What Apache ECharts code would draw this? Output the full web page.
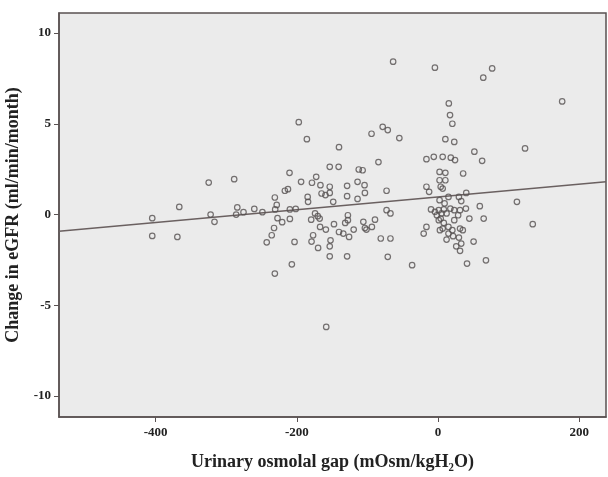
<!DOCTYPE html>
<html><head><meta charset="utf-8">
<script src="https://cdn.jsdelivr.net/npm/echarts@6/dist/echarts.min.js"></script>
<style>html,body{margin:0;padding:0;background:#fff}#c{width:608px;height:477px}</style>
</head><body><div id="c"></div>
<script>
// Urinary osmolal gap (mOsm/kgH2O)
const gapX = [-63.6,-4.4,76.7,64.1,175.9,15.3,17.0,20.3,-197.3,-78.4,-71.2,-94.2,-54.8,-185.8,10.4,23.0,-140.3,123.3,51.5,-16.4,-6.0,6.6,18.1,24.1,62.5,-84.4,-153.4,-140.8,-112.3,-106.8,-210.4,2.2,10.4,35.6,-324.9,-288.8,-194.0,-172.6,-178.6,-166.6,-153.4,-128.8,-114.0,-104.1,2.2,10.4,3.8,-16.4,-12.6,6.6,-72.9,-212.6,-217.0,-103.6,-165.0,-153.4,-159.5,-128.8,-184.7,-231.2,-114.0,-184.1,-148.5,40.0,29.6,14.8,32.9,111.8,59.2,-366.6,-284.4,-228.5,-260.3,-275.6,-248.8,-230.7,-209.9,-201.6,-322.2,-286.0,-404.9,-316.7,-227.4,-220.8,-209.9,-179.7,-174.2,-170.4,-167.7,-127.7,-127.7,-147.4,-131.5,-105.8,-89.3,-72.9,-67.4,-9.9,1.1,8.2,-1.6,4.9,12.1,17.5,23.0,31.2,39.5,44.4,64.7,134.2,3.8,8.2,2.7,14.8,20.3,31.2,14.8,12.1,21.4,29.6,35.1,32.9,25.8,31.2,50.4,-16.4,-20.3,41.1,67.9,-36.7,-71.2,-67.4,-81.1,-128.8,-153.4,-153.4,-152.3,-169.9,-179.2,-177.0,-167.1,-158.9,-140.3,-134.2,-126.0,-119.5,-103.6,-93.7,-101.4,-203.3,-232.3,-235.6,-242.7,-207.1,-231.2,-404.9,-369.3,-158.4,-4.4,1.1,6.6,23.0,28.5,2.2,9.3];
// Change in eGFR (ml/min/month)
const egfrY = [8.42,8.09,8.05,7.54,6.23,6.12,5.48,5.00,5.09,4.83,4.65,4.45,4.21,4.15,4.15,4.00,3.71,3.64,3.46,3.05,3.18,3.18,3.13,3.00,2.96,2.89,2.63,2.63,2.48,2.44,2.30,2.35,2.30,2.26,1.76,1.95,1.80,2.08,1.75,1.62,1.53,1.58,1.80,1.62,1.89,1.89,1.53,1.53,1.25,1.43,1.31,1.40,1.31,1.19,1.16,1.19,1.07,1.01,0.97,0.94,0.86,0.70,0.70,1.19,0.97,0.97,0.74,0.70,0.46,0.42,0.39,0.53,0.31,0.13,0.13,0.28,0.28,0.31,0.00,0.00,-0.20,-0.40,-0.20,-0.42,-0.24,-0.28,0.06,-0.09,-0.22,-0.04,-0.31,-0.53,-0.46,-0.40,-0.28,0.24,0.06,0.28,0.24,0.28,-0.04,0.06,0.06,0.33,0.24,0.24,0.33,-0.22,-0.22,-0.53,-0.22,-0.46,-0.86,-0.68,-0.86,-0.77,-1.05,-1.38,-1.19,-1.27,-0.86,-1.60,-1.75,-2.00,-1.49,-0.68,-1.05,-2.70,-2.52,-2.79,-2.33,-1.32,-1.32,-2.30,-2.30,-1.75,-1.42,-1.84,-1.49,-1.14,-0.68,-0.83,-0.96,-1.05,-1.23,-0.83,-0.74,-0.68,-0.83,-1.51,-0.74,-1.14,-1.53,-2.74,-3.25,-1.18,-1.23,-6.19,0.15,-0.31,-0.77,-0.31,-0.04,0.79,0.61];
const xTicks = [-400, -200, 0, 200];
const yTicks = [-10, -5, 0, 5, 10];
const fitIntercept = 0.965;
const fitSlope = 0.00351;
const xMin = -537, xMax = 238, yMin = -11.15, yMax = 11.1;

const pts = gapX.map((x, i) => [x, egfrY[i]]);
const fit = [xMin, xMax].map(x => [x, fitIntercept + fitSlope * x]);
const font = '"Liberation Serif","Times New Roman",serif';

const chart = echarts.init(document.getElementById('c'));
chart.setOption({
  animation: false,
  backgroundColor: '#ffffff',
  grid: { left: 59, right: 2, top: 13, bottom: 60, containLabel: false, outerBoundsMode: 'none', show: true, backgroundColor: '#ebebeb', borderColor: '#5a5252', borderWidth: 1.5 },
  xAxis: {
    type: 'value', min: xMin, max: xMax,
    name: 'Urinary osmolal gap (mOsm/kgH\u2082O)', nameLocation: 'middle', nameGap: 36,
    nameTextStyle: { fontFamily: font, fontWeight: 'bold', fontSize: 18, color: '#222' },
    axisLine: { show: true, onZero: false, lineStyle: { color: '#5a5252', width: 1.5 } },
    axisTick: { show: true, length: 5, lineStyle: { color: '#5a5252' }, customValues: xTicks },
    axisLabel: { fontFamily: font, fontWeight: 'bold', fontSize: 13, color: '#222', margin: 9, customValues: xTicks, formatter: v => String(v) },
    splitLine: { show: false }
  },
  yAxis: {
    type: 'value', min: yMin, max: yMax,
    name: 'Change in eGFR (ml/min/month)', nameLocation: 'middle', nameGap: 31,
    nameTextStyle: { fontFamily: font, fontWeight: 'bold', fontSize: 18, color: '#222' },
    axisLine: { show: true, onZero: false, lineStyle: { color: '#5a5252', width: 1.5 } },
    axisTick: { show: true, length: 5, lineStyle: { color: '#5a5252' }, customValues: yTicks },
    axisLabel: { fontFamily: font, fontWeight: 'bold', fontSize: 13, color: '#222', margin: 8, customValues: yTicks, formatter: v => String(v) },
    splitLine: { show: false }
  },
  series: [
    { type: 'scatter', data: pts, symbol: 'circle', symbolSize: 5.5,
      itemStyle: { color: 'rgba(0,0,0,0)', borderColor: '#555050', borderWidth: 1.2 }, z: 3 },
    { type: 'line', data: fit, showSymbol: false, symbol: 'none',
      lineStyle: { color: '#6a6060', width: 1.5 }, z: 2 }
  ]
});
</script></body></html>
